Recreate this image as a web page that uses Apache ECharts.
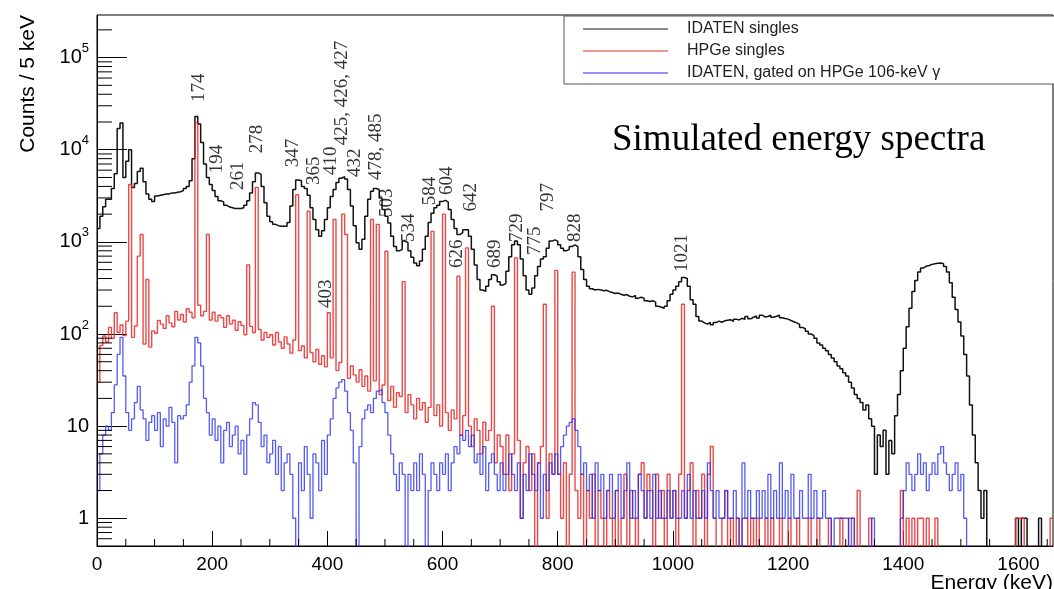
<!DOCTYPE html>
<html><head><meta charset="utf-8">
<script src="https://cdn.jsdelivr.net/npm/echarts@6/dist/echarts.min.js"></script>
<style>html,body{margin:0;padding:0;background:#fff}#c{width:1054px;height:589px}</style>
</head><body><div id="c"></div>
<script>
// ---------------- DATA ----------------
const binWidth = 5;           // keV per bin
const energyMin = 0;
const energyMax = 1660;
const seriesNames = ['IDATEN singles', 'HPGe singles', 'IDATEN, gated on HPGe 106-keV \u03b3'];

// counts per 5 keV bin, bins start at 0, 5, 10, ... keV
const idatenSingles = [
  1400,1900,2400,2900,2900,3800,5500,17000,19500,5000,7500,10000,3900,4300,5800,6300,4500,3300,2900,2750,
  3150,3200,3250,3300,3300,3400,3400,3450,3500,3600,3800,4000,4600,8000,23000,19000,12000,7000,5000,4200,
  3600,3100,2800,2700,2500,2400,2350,2300,2300,2300,2350,2500,2800,3400,4500,5600,5400,4000,2650,1900,
  1650,1550,1500,1480,1480,1480,1620,2450,3700,4700,4600,4000,3800,3200,2350,1750,1350,1150,1320,1750,
  2350,3100,3700,4400,4900,5100,4800,3700,2450,1500,980,830,1070,1900,2900,3550,3800,3700,3000,2250,
  1900,1600,1150,890,800,830,1020,980,800,680,590,550,620,830,1150,1620,2050,2350,2500,2750,
  2820,2700,2250,1750,1400,1200,1260,1350,1350,1150,830,560,390,300,290,330,390,440,425,370,
  340,355,480,690,930,1020,930,650,430,300,270,315,430,540,650,690,850,1020,1050,1020,
  930,850,800,830,890,930,890,690,500,390,330,310,300,305,300,295,298,288,282,275,
  278,270,263,268,257,253,262,245,250,245,230,225,230,222,200,195,190,200,230,270,
  300,330,370,410,400,330,235,210,155,138,132,128,134,126,133,138,134,139,141,143,
  137,145,142,148,144,155,146,152,157,149,160,153,155,160,152,156,160,150,147,145,
  140,136,132,127,118,114,107,100,96,90,80,76,70,66,60,55,50,45,42,38,
  35,30,26,22,20,18,15,17,12,10,3,8,6,9,3,7,5,13,22,40,
  70,120,190,290,380,470,520,545,555,570,580,585,590,580,540,470,360,250,185,135,
  95,60,35,17,8,4,2,1,2,0,0,0,0,0,0,0,0,0,0,1,
  0,1,1,0,0,0,0,1,0,0,0,0
];
const hpgeSingles = [
  30,75,95,82,118,90,170,104,125,96,138,4200,92,122,700,1200,78,390,72,108,
  102,140,128,115,158,132,120,176,142,163,135,188,172,150,19500,205,158,176,1200,142,
  172,138,160,150,118,158,128,141,110,136,124,98,560,121,104,3900,112,86,104,92,
  98,76,104,82,70,93,78,62,86,3250,66,74,55,2150,63,50,68,47,58,44,
  170,55,1750,40,49,2000,1200,33,45,36,30,41,27,35,24,1750,31,1550,22,28,
  790,19,27,16,23,21,370,14,22,17,12,20,15,18,11,16,1300,13,17,10,
  2000,14,9,15,12,425,8,13,860,10,6,12,9,5,11,7,9,200,4,8,
  6,3,8,2,5,670,7,1,4,6,2,5,0,4,6,210,1,5,3,490,
  3,1,4,0,3,470,2,1,3,0,2,1,3,0,2,1,0,2,1,0,
  2,0,1,3,0,2,1,0,3,4,1,3,2,0,3,1,2,0,3,1,
  2,0,3,210,1,2,4,0,2,1,3,0,3,6,1,0,0,1,2,0,
  1,0,1,0,1,1,0,1,0,1,0,0,1,0,1,0,0,1,0,0,
  1,0,0,1,0,0,0,1,0,0,1,0,0,0,1,0,0,0,1,0,
  0,1,1,0,2,0,0,0,1,0,0,0,0,0,0,0,0,0,0,2,
  0,1,0,1,0,1,1,0,1,0,0,1,0,0,0,0,0,0,0,0,
  0,0,0,0,0,0,0,0,0,0,0,0,0,0,0,0,0,0,0,1,
  1,1,0,0,0,0,0,0,0,0,0,1
];
const idatenGated = [
  2,5,8,10,9,14,28,60,92,35,14,9,12,18,27,15,12,7,11,13,
  9,14,6,12,10,16,11,4,13,12,13,17,30,45,92,80,45,20,14,8,
  12,7,10,4,9,11,6,8,10,5,7,3,8,12,18,17,11,6,8,4,
  5,7,3,6,2,4,5,3,1,0,4,2,6,3,1,5,4,2,7,3,
  8,12,20,26,30,32,24,14,9,4,0,6,12,15,17,14,20,24,25,18,
  14,8,5,3,2,4,3,0,3,2,4,2,5,3,0,2,4,3,2,4,
  3,5,2,4,6,5,8,7,9,6,8,4,5,3,6,2,4,5,3,2,
  4,2,3,5,3,2,4,1,3,2,5,3,2,4,1,3,2,4,3,5,
  3,6,8,10,11,12,9,6,3,4,2,3,1,4,2,3,1,2,3,1,
  2,3,1,2,4,1,2,1,3,2,1,2,1,3,1,2,1,1,2,1,
  2,1,1,2,1,3,1,2,1,1,2,1,4,2,1,2,1,1,2,1,
  1,2,1,0,4,1,2,1,1,2,1,2,1,3,1,2,1,4,1,2,
  1,3,1,1,2,1,1,3,1,2,1,1,2,1,1,0,1,1,1,1,
  1,0,1,0,0,0,0,0,0,1,0,0,0,0,0,0,0,0,0,1,
  2,4,3,2,3,5,3,4,2,3,4,3,5,6,4,3,2,3,4,2,
  3,1,0,0,0,0,0,0,0,0,0,0,0,0,0,0,0,0,0,0,
  0,0,0,0,0,0,0,0,0,0,0,0
];

// peak annotations: [text, energy (keV) of label, count level where the label starts]
const peakLabels = [
  ['174', 177, 32900], ['194', 209, 5570], ['261', 245, 3650], ['278', 278, 9180],
  ['347', 341, 6470], ['365', 376, 4130], ['403', 397, 191], ['410', 406, 5310],
  ['425, 426, 427', 426, 11200], ['432', 448, 5050], ['478, 485', 484, 4680],
  ['503', 504, 1860], ['534', 541, 995], ['584', 578, 2500], ['604', 607, 3220],
  ['626', 625, 519], ['642', 649, 2140], ['689', 691, 519], ['729', 729, 995],
  ['775', 761, 720], ['797', 784, 2140], ['828', 830, 995], ['1021', 1016, 470]
];
const titleText = 'Simulated energy spectra';
const yAxisTitle = 'Counts / 5 keV';
const xAxisTitle = 'Energy (keV)';
const yMin = 0.5, yMax = 2.9e5;

// ---------------- BUILD ----------------
const FLOOR = 0.05; // empty bins drop below the axis (clipped)
function toSteps(arr) {
  const pts = arr.map((v, i) => [energyMin + i * binWidth, v > 0 ? v : FLOOR]);
  pts.push([energyMin + arr.length * binWidth, pts[pts.length - 1][1]]);
  return pts;
}
// axis minor ticks (ROOT style)
const yMinor = [];
for (let e = -1; e <= 5; e++) for (let m = 2; m <= 9; m++) {
  const v = m * Math.pow(10, e);
  if (v > yMin && v < yMax) yMinor.push([energyMin, v]);
}
const xMinor = [];
for (let e = 50; e < energyMax; e += 50) if (e % 200 !== 0) xMinor.push([e, yMin]);

const SANS = '"Liberation Sans", Arial, sans-serif';
const SERIF = '"Liberation Serif", "Times New Roman", serif';

const chart = echarts.init(document.getElementById('c'), null, {renderer: 'canvas'});
const colors = ['#111111', 'rgba(232,40,40,0.85)', 'rgba(40,50,240,0.8)'];
const legendColors = ['#666666', '#f07070', '#7070f0'];

chart.setOption({
  animation: false,
  textStyle: {fontFamily: SANS},
  grid: {left: 97, right: 1, top: 15, bottom: 43, show: true, borderColor: '#000', borderWidth: 1, backgroundColor: 'transparent'},
  xAxis: {
    type: 'value', min: energyMin, max: energyMax, interval: 200,
    axisLine: {lineStyle: {color: '#000', width: 1}},
    axisTick: {inside: true, length: 15, lineStyle: {color: '#000'}},
    axisLabel: {color: '#000', fontSize: 19, fontFamily: SANS, margin: 9, showMaxLabel: false,
      formatter: function (v) { return String(v); }},
    splitLine: {show: false}
  },
  yAxis: {
    type: 'log', logBase: 10, min: yMin, max: yMax,
    axisLine: {show: true, lineStyle: {color: '#000', width: 1}},
    axisTick: {show: true, inside: true, length: 30, lineStyle: {color: '#000'}},
    axisLabel: {
      color: '#000', fontSize: 20, fontFamily: SANS, margin: 8,
      showMinLabel: false, showMaxLabel: false,
      formatter: function (v) {
        const l = Math.log10(v), e = Math.round(l);
        if (Math.abs(l - e) > 1e-6) return '';
        if (e === 0) return '1';
        if (e === 1) return '10';
        return '10{s|' + e + '}';
      },
      rich: {s: {fontSize: 13, fontFamily: SANS, color: '#000', verticalAlign: 'top', padding: [0, 0, 18, 0]}}
    },
    splitLine: {show: false}
  },
  legend: {
    data: seriesNames.map((n, i) => ({name: n, icon: 'rect', itemStyle: {color: legendColors[i]}})),
    orient: 'vertical', left: 564, top: 16,
    padding: [5, 200, 3, 19], itemWidth: 85, itemHeight: 1.5, itemGap: 6,
    backgroundColor: '#fff', borderColor: '#555', borderWidth: 1, borderRadius: 0,
    selectedMode: false,
    textStyle: {fontFamily: SANS, fontSize: 16, color: '#222', lineHeight: 16, padding: [0, 0, 0, 14]}
  },
  graphic: [
    {type: 'text', x: 28, y: 15, rotation: Math.PI / 2, z: 100,
      style: {text: yAxisTitle, font: '21px ' + SANS, fill: '#000', align: 'right', verticalAlign: 'middle'}},
    {type: 'text', x: 1053, y: 583, z: 100,
      style: {text: xAxisTitle, font: '21px ' + SANS, fill: '#000', align: 'right', verticalAlign: 'middle'}},
    {type: 'text', x: 612, y: 140, z: 100,
      style: {text: titleText, font: '37px ' + SERIF, fill: '#000', align: 'left', verticalAlign: 'middle'}}
  ],
  series: [
    {name: seriesNames[0], type: 'line', step: 'end', symbol: 'none', data: toSteps(idatenSingles),
      lineStyle: {color: colors[0], width: 1.5}, itemStyle: {color: colors[0]}, z: 2, clip: true},
    {name: seriesNames[1], type: 'line', step: 'end', symbol: 'none', data: toSteps(hpgeSingles),
      lineStyle: {color: colors[1], width: 1.4}, itemStyle: {color: colors[1]}, z: 3, clip: true},
    {name: seriesNames[2], type: 'line', step: 'end', symbol: 'none', data: toSteps(idatenGated),
      lineStyle: {color: colors[2], width: 1.3}, itemStyle: {color: colors[2]}, z: 4, clip: true},
    {type: 'custom', silent: true, z: 10, data: yMinor,
      renderItem: function (params, api) {
        const p = api.coord([api.value(0), api.value(1)]);
        return {type: 'line', shape: {x1: p[0], y1: p[1], x2: p[0] + 15, y2: p[1]}, style: {stroke: '#000', lineWidth: 1}};
      }},
    {type: 'custom', silent: true, z: 10, data: xMinor,
      renderItem: function (params, api) {
        const p = api.coord([api.value(0), api.value(1)]);
        return {type: 'line', shape: {x1: p[0], y1: p[1], x2: p[0], y2: p[1] - 7}, style: {stroke: '#000', lineWidth: 1}};
      }},
    {type: 'scatter', silent: true, z: 12, symbolSize: 0,
      data: peakLabels.map(p => ({value: [p[1], p[2]], name: p[0]})),
      label: {show: true, formatter: '{b}', position: [0, 0], rotate: 90, align: 'left', verticalAlign: 'middle',
        fontFamily: SERIF, fontSize: 19, color: '#000'}}
  ]
});
</script>
</body></html>
